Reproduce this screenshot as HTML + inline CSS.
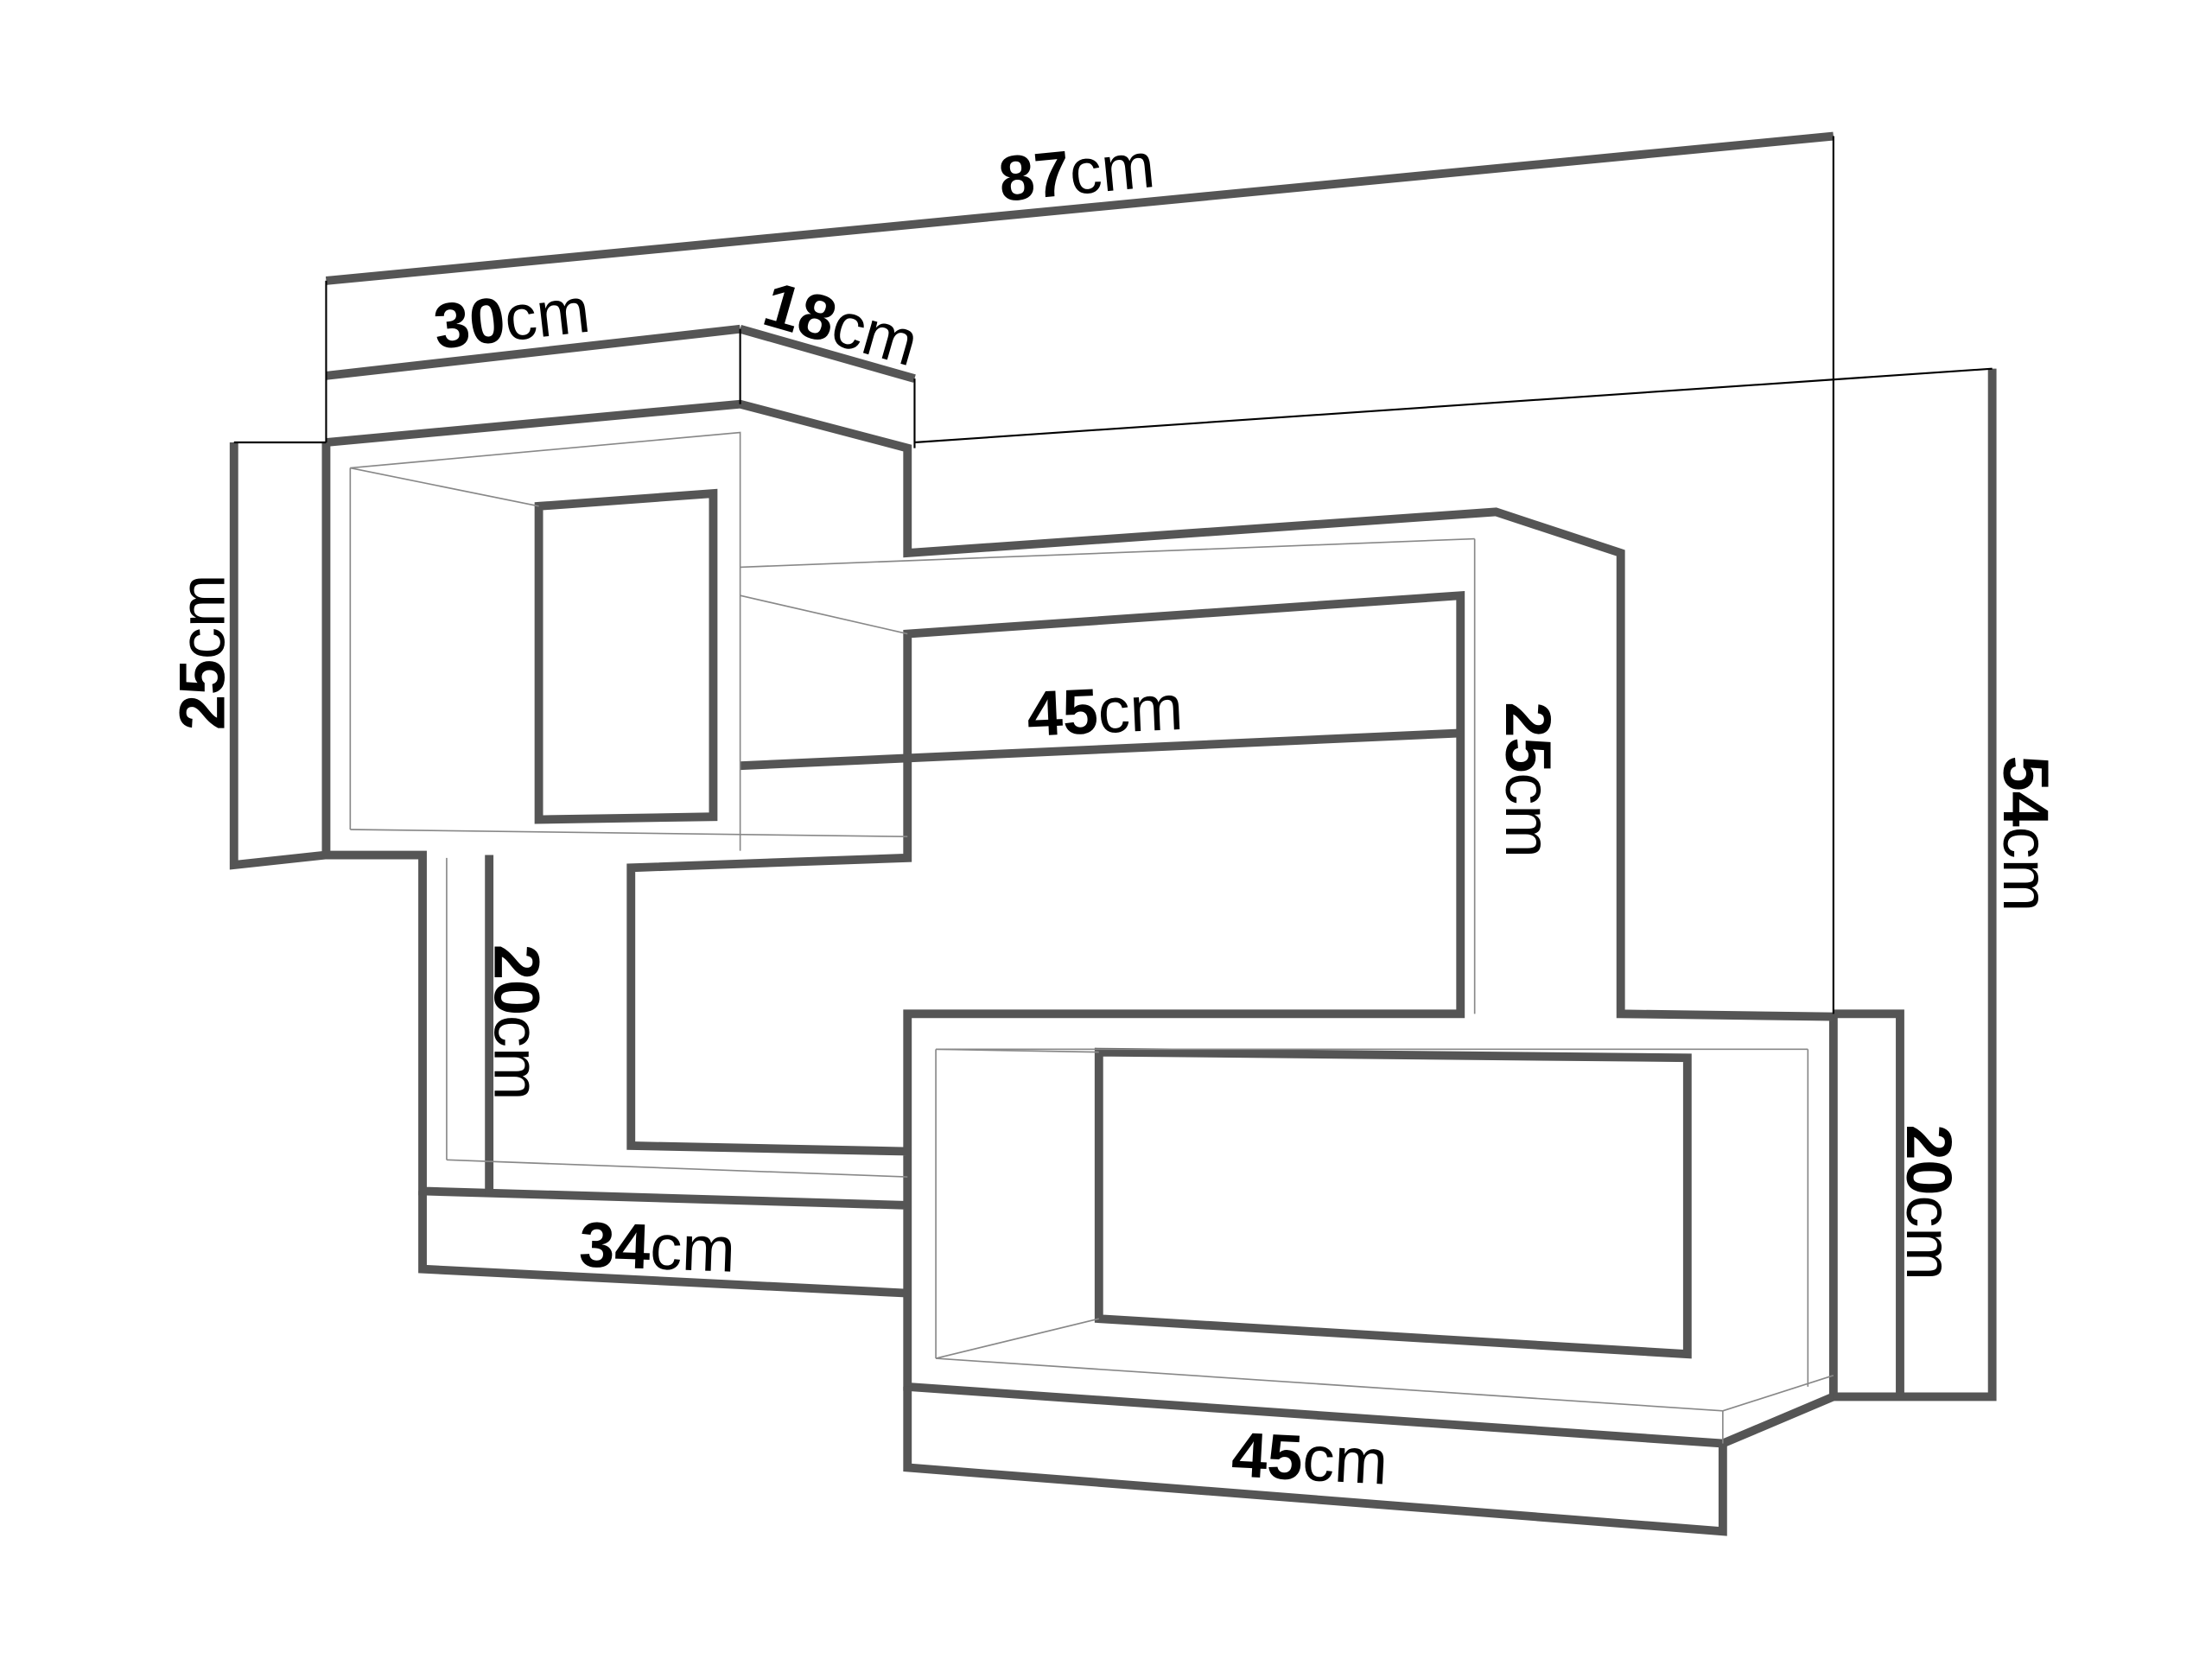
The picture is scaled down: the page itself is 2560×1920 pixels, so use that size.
<!DOCTYPE html>
<html><head><meta charset="utf-8"><style>html,body{margin:0;padding:0;background:#fff}svg{display:block}</style></head>
<body>
<svg width="2560" height="1920" viewBox="0 0 1560 1170" xmlns="http://www.w3.org/2000/svg" font-family="Liberation Sans, sans-serif">
<g fill="none" stroke="#555" stroke-width="6" stroke-linejoin="miter">
<polyline points="230,312 522,285 640,316 640,390 1055,361 1143,390 1143,715 1293,717 1293,985 1215,1018 640,978 640,715 1030,715 1030,420 640,447 640,605 445,612 445,808 640,812 640,850 298,840 298,603 230,603 230,312"/>
<polygon points="380,357 503,348 503,576 380,578"/>
<polygon points="775,742 1190,746 1190,955 775,930"/>
<polyline points="298,840 298,895 640,912"/>
<line x1="522" y1="540" x2="1030" y2="517"/>
<polyline points="640,978 640,1035 1215,1080 1215,1018"/>
<line x1="230" y1="265" x2="522" y2="232"/>
<line x1="522" y1="232" x2="645" y2="267"/>
<line x1="230" y1="198" x2="1293" y2="96"/>
<polyline points="165,312 165,610 230,603"/>
<polyline points="1405,260 1405,985 1293,985"/>
<polyline points="1293,715 1340,715 1340,985"/>
<line x1="345" y1="603" x2="345" y2="843"/>
</g>
<g fill="none" stroke="#000" stroke-width="1.3">
<line x1="230" y1="198" x2="230" y2="312"/>
<line x1="522" y1="232" x2="522" y2="285"/>
<line x1="645" y1="267" x2="645" y2="316"/>
<line x1="1293" y1="96" x2="1293" y2="715"/>
<line x1="645" y1="312" x2="1405" y2="260"/>
<line x1="165" y1="312" x2="230" y2="312"/>
</g>
<g fill="none" stroke="#888" stroke-width="1">
<polyline points="247,330 522,305 522,600"/>
<line x1="247" y1="330" x2="247" y2="585"/>
<line x1="247" y1="330" x2="380" y2="357"/>
<line x1="247" y1="585" x2="640" y2="590"/>
<line x1="522" y1="400" x2="1040" y2="380"/>
<line x1="522" y1="420" x2="640" y2="447"/>
<line x1="1040" y1="380" x2="1040" y2="715"/>
<line x1="315" y1="605" x2="315" y2="818"/>
<line x1="315" y1="818" x2="640" y2="830"/>
<line x1="660" y1="740" x2="1275" y2="740"/>
<line x1="660" y1="740" x2="660" y2="958"/>
<line x1="660" y1="958" x2="1215" y2="995"/>
<line x1="660" y1="740" x2="775" y2="742"/>
<line x1="660" y1="958" x2="775" y2="930"/>
<line x1="1215" y1="995" x2="1293" y2="970"/>
<line x1="1215" y1="995" x2="1215" y2="1018"/>
<line x1="1275" y1="740" x2="1275" y2="978"/>
</g>
<g font-size="45" fill="#000">
<text transform="translate(706,142) rotate(-5.5)"><tspan font-weight="bold">87</tspan>cm</text>
<text transform="translate(308,246) rotate(-6.5)"><tspan font-weight="bold">30</tspan>cm</text>
<text transform="translate(536,228) rotate(16)"><tspan font-weight="bold">18</tspan>cm</text>
<text transform="translate(158,515) rotate(-90)"><tspan font-weight="bold">25</tspan>cm</text>
<text transform="translate(725,519) rotate(-2.5)"><tspan font-weight="bold">45</tspan>cm</text>
<text transform="translate(1062,495) rotate(90)"><tspan font-weight="bold">25</tspan>cm</text>
<text transform="translate(1413,533) rotate(90)"><tspan font-weight="bold">54</tspan>cm</text>
<text transform="translate(349,666) rotate(90)"><tspan font-weight="bold">20</tspan>cm</text>
<text transform="translate(408,893) rotate(2)"><tspan font-weight="bold">34</tspan>cm</text>
<text transform="translate(1345,793) rotate(90)"><tspan font-weight="bold">20</tspan>cm</text>
<text transform="translate(868,1041) rotate(3)"><tspan font-weight="bold">45</tspan>cm</text>
</g>
</svg>
</body></html>
